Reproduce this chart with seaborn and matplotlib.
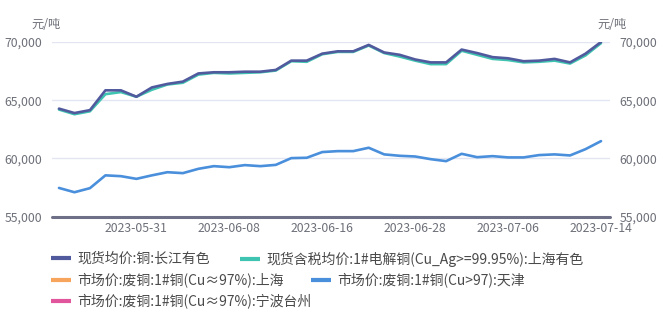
import numpy as np
import pandas as pd
import matplotlib
matplotlib.use("Agg")
import matplotlib.pyplot as plt
from matplotlib.lines import Line2D
import seaborn as sns

dates = ["2023-05-24", "2023-05-25", "2023-05-26", "2023-05-29", "2023-05-30", "2023-05-31",
         "2023-06-01", "2023-06-02", "2023-06-05", "2023-06-06", "2023-06-07", "2023-06-08",
         "2023-06-09", "2023-06-12", "2023-06-13", "2023-06-14", "2023-06-15", "2023-06-16",
         "2023-06-19", "2023-06-20", "2023-06-21", "2023-06-26", "2023-06-27", "2023-06-28",
         "2023-06-29", "2023-06-30", "2023-07-03", "2023-07-04", "2023-07-05", "2023-07-06",
         "2023-07-07", "2023-07-10", "2023-07-11", "2023-07-12", "2023-07-13", "2023-07-14"]

changjiang = [64280, 63900, 64150, 65850, 65850, 65300, 66100, 66400, 66600, 67300, 67400, 67400,
              67450, 67450, 67600, 68400, 68400, 69000, 69200, 69200, 69750, 69100, 68900, 68500,
              68250, 68250, 69350, 69050, 68700, 68600, 68350, 68400, 68550, 68250, 69000, 70000]
shanghai_elec = [64200, 63800, 64050, 65520, 65700, 65300, 65900, 66350, 66500, 67200, 67350, 67300,
                 67350, 67400, 67550, 68350, 68300, 68950, 69150, 69150, 69700, 69050, 68750, 68400,
                 68100, 68100, 69250, 68900, 68550, 68450, 68250, 68300, 68400, 68150, 68850, 69900]
tianjin_scrap = [57470, 57100, 57450, 58550, 58480, 58250, 58550, 58820, 58740, 59110, 59340, 59250,
                 59430, 59340, 59450, 60030, 60060, 60550, 60630, 60630, 60920, 60350, 60230, 60170,
                 59940, 59770, 60400, 60110, 60200, 60090, 60090, 60290, 60350, 60260, 60800, 61490]
shanghai_scrap = [np.nan] * len(dates)
taizhou_scrap = [np.nan] * len(dates)

series_names = ["现货均价:铜:长江有色",
                "现货含税均价:1#电解铜(Cu_Ag>=99.95%):上海有色",
                "市场价:废铜:1#铜(Cu≈97%):上海",
                "市场价:废铜:1#铜(Cu>97):天津",
                "市场价:废铜:1#铜(Cu≈97%):宁波台州"]
colors = ["#525a9e", "#3fc4b1", "#f7a55c", "#4a8fdc", "#e0559c"]
tick_dates = ["2023-05-31", "2023-06-08", "2023-06-16", "2023-06-28", "2023-07-06", "2023-07-14"]
yticks = [55000, 60000, 65000, 70000]

sns.set_theme(style="white")
plt.rcParams["font.family"] = ["Noto Sans CJK SC", "DejaVu Sans"]

values = [changjiang, shanghai_elec, shanghai_scrap, tianjin_scrap, taizhou_scrap]
frames = []
for name, vals in zip(series_names, values):
    frames.append(pd.DataFrame({"idx": np.arange(len(dates)), "date": dates,
                                "value": vals, "series": name}))
df = pd.concat(frames, ignore_index=True).dropna()

fig = plt.figure(figsize=(6.64, 3.16), dpi=100)
ax = fig.add_axes([52 / 664, 1 - 216.7 / 316, (610 - 52) / 664, (216.7 - 42) / 316])

draw_order = [3, 1, 0]
for i in draw_order:
    sub = df[df["series"] == series_names[i]]
    sns.lineplot(data=sub, x="idx", y="value", ax=ax, color=colors[i], linewidth=1.9,
                 legend=False, zorder=3 + (1 if i == 0 else 0))

ax.set_xlim(-0.45, 35.58)
ax.set_ylim(55000, 70000)
ax.set_yticks(yticks)
ax.set_yticklabels([f"{v:,}" for v in yticks])
ax.set_xticks([dates.index(d) for d in tick_dates])
ax.set_xticklabels(tick_dates)
ax.set_xlabel("")
ax.set_ylabel("")
for s in ax.spines.values():
    s.set_visible(False)
ax.grid(axis="y", color="#e3e6f2", linewidth=1.0)
ax.grid(axis="x", visible=False)
ax.axhline(55000, color="#6e7088", linewidth=2.2, zorder=5, clip_on=False)
ax.tick_params(axis="both", length=0, labelsize=8.8, labelcolor="#6e7079")
ax.tick_params(axis="y", pad=7)
ax.tick_params(axis="x", pad=4)

ax2 = ax.twinx()
ax2.set_ylim(55000, 70000)
ax2.set_yticks(yticks)
ax2.set_yticklabels([f"{v:,}" for v in yticks])
for s in ax2.spines.values():
    s.set_visible(False)
ax2.tick_params(axis="y", length=0, labelsize=8.8, labelcolor="#6e7079", pad=7)
ax2.grid(False)

fig.text(46 / 664, 1 - 24 / 316, "元/吨", ha="center", va="center", fontsize=8.8, color="#6e7079")
fig.text(612 / 664, 1 - 24 / 316, "元/吨", ha="center", va="center", fontsize=8.8, color="#6e7079")

legend_pos = [(51, 259), (240, 259), (51, 280), (311, 280), (51, 301)]
for i, (lx, ly) in enumerate(legend_pos):
    h = Line2D([0], [0], color=colors[i], linewidth=3.0, solid_capstyle="butt")
    leg = fig.legend([h], [series_names[i]], loc="center left",
                     bbox_to_anchor=(lx / 664, 1 - ly / 316), frameon=False,
                     fontsize=10, handlelength=1.45, handletextpad=0.45,
                     borderpad=0, borderaxespad=0)
    for t in leg.get_texts():
        t.set_color("#4a4a4a")

fig.savefig("out.png", dpi=100, facecolor="white")
